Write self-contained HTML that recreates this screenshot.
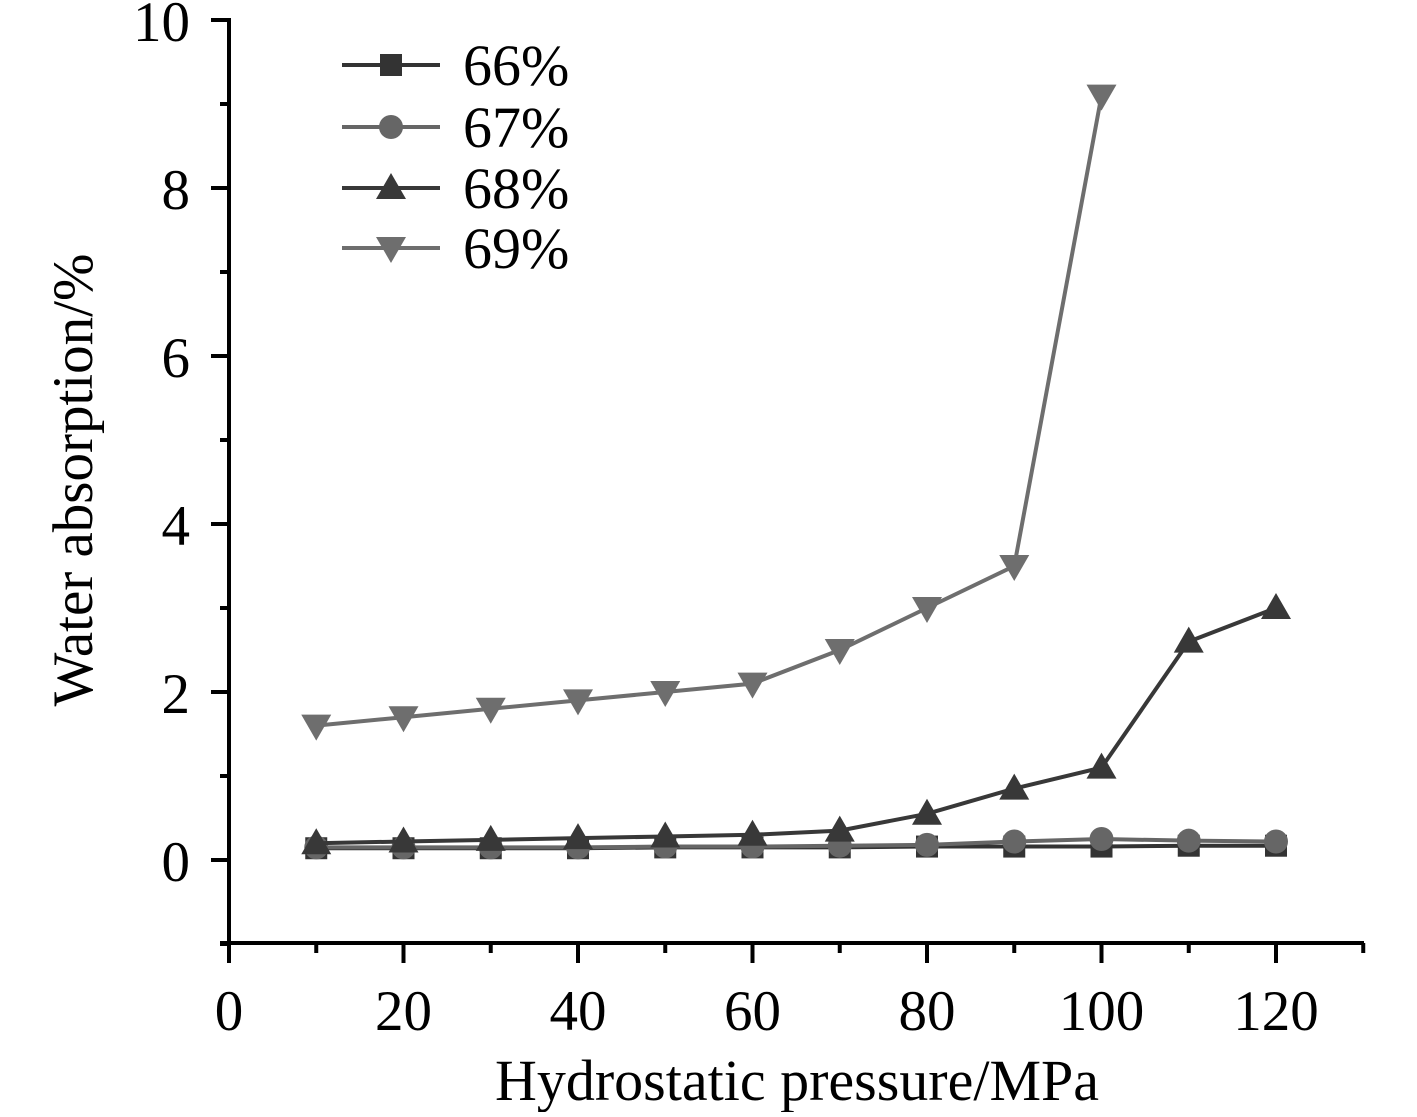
<!DOCTYPE html>
<html><head><meta charset="utf-8"><style>
html,body{margin:0;padding:0;background:#fff;}
svg text{font-family:"Liberation Serif",serif;fill:#000;}
</style></head><body>
<svg id="s" width="1417" height="1112" viewBox="0 0 1417 1112" xmlns="http://www.w3.org/2000/svg">
<rect width="1417" height="1112" fill="#fff"/>
<g stroke="#000" stroke-width="4" fill="none">
<line x1="229" y1="18" x2="229" y2="963"/>
<line x1="220" y1="943" x2="1364" y2="943"/>
</g>
<g id="ticks" stroke="#000" stroke-width="4"></g>
<g font-size="57" text-anchor="end">
<text x="190" y="41">10</text>
<text x="190" y="209">8</text>
<text x="190" y="377">6</text>
<text x="190" y="545">4</text>
<text x="190" y="713">2</text>
<text x="190" y="881">0</text>
</g>
<g font-size="57" text-anchor="middle">
<text x="229" y="1030">0</text>
<text x="403.5" y="1030">20</text>
<text x="578" y="1030">40</text>
<text x="752.5" y="1030">60</text>
<text x="927" y="1030">80</text>
<text x="1101.5" y="1030">100</text>
<text x="1276" y="1030">120</text>
</g>
<text x="797" y="1100" font-size="58" text-anchor="middle">Hydrostatic pressure/MPa</text>
<text transform="translate(92,480) rotate(-90)" font-size="57" text-anchor="middle">Water absorption/%</text>
<g id="plot"></g>
<g font-size="58">
<text x="463" y="85">66%</text>
<text x="463" y="147">67%</text>
<text x="463" y="208">68%</text>
<text x="463" y="268">69%</text>
</g>
</svg>
<script>
var NS="http://www.w3.org/2000/svg";
function el(p,t,a){var e=document.createElementNS(NS,t);for(var k in a)e.setAttribute(k,a[k]);p.appendChild(e);return e;}
var tk=document.getElementById('ticks'),pl=document.getElementById('plot');
function X(v){return 229+v*8.725;} function Y(v){return 860-v*84;}
for(var v=10;v<=130;v+=10){var maj=(v%20==0);el(tk,'line',{x1:X(v),x2:X(v),y1:943,y2:maj?963:953});}
for(var v=-1;v<=10;v++){var maj=(v%2==0);el(tk,'line',{x1:maj?211:220,x2:229,y1:Y(v),y2:Y(v)});}
var xs=[10,20,30,40,50,60,70,80,90,100,110,120];
var S=[
{c:"#333",m:"sq",d:[0.14,0.14,0.14,0.14,0.15,0.15,0.15,0.16,0.16,0.16,0.17,0.17]},
{c:"#666",m:"ci",d:[0.15,0.15,0.15,0.15,0.16,0.16,0.17,0.18,0.22,0.25,0.23,0.22]},
{c:"#383838",m:"up",d:[0.2,0.22,0.24,0.26,0.28,0.3,0.35,0.55,0.85,1.1,2.6,3.0]},
{c:"#6e6e6e",m:"dn",d:[1.6,1.7,1.8,1.9,2.0,2.1,2.5,3.0,3.5,9.1]}];
function mk(m,x,y,c){
 if(m=="sq")el(pl,'rect',{x:x-11,y:y-11,width:22,height:22,fill:c});
 else if(m=="ci")el(pl,'circle',{cx:x,cy:y,r:12,fill:c});
 else if(m=="up")el(pl,'polygon',{points:(x)+","+(y-15)+" "+(x-15)+","+(y+11)+" "+(x+15)+","+(y+11),fill:c});
 else el(pl,'polygon',{points:(x)+","+(y+15)+" "+(x-15)+","+(y-11)+" "+(x+15)+","+(y-11),fill:c});
}
var ly=[65,127,188,248];
S.forEach(function(s,i){
 var pts=s.d.map(function(v,j){return X(xs[j])+","+Y(v);}).join(" ");
 el(pl,'polyline',{points:pts,fill:"none",stroke:s.c,"stroke-width":4});
 s.d.forEach(function(v,j){mk(s.m,X(xs[j]),Y(v),s.c);});
 el(pl,'line',{x1:342,x2:440,y1:ly[i],y2:ly[i],stroke:s.c,"stroke-width":4});
 mk(s.m,391,ly[i],s.c);
});
</script>
</body></html>
